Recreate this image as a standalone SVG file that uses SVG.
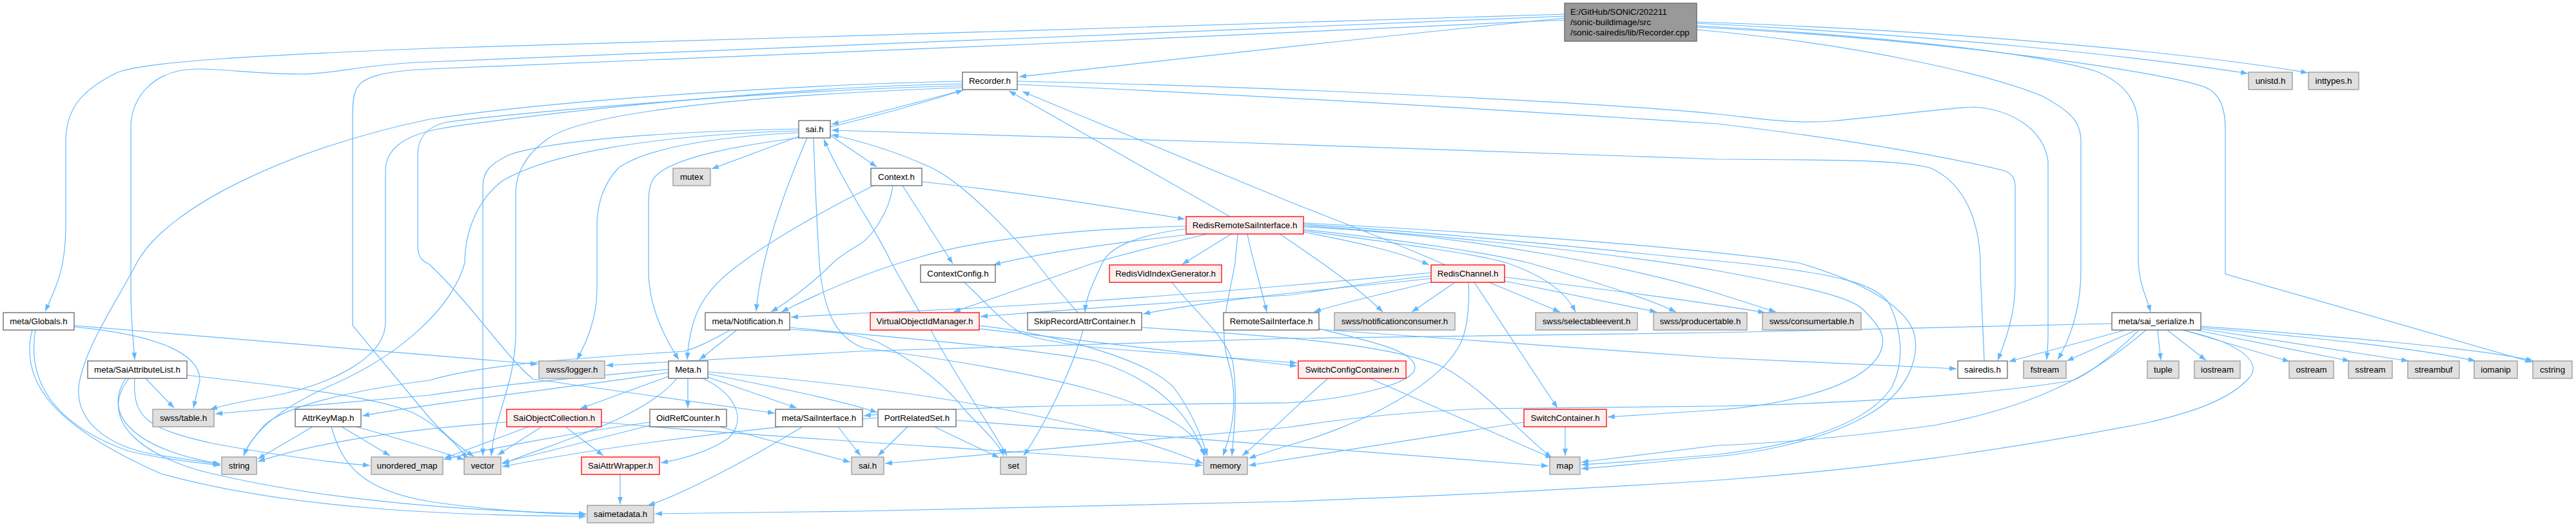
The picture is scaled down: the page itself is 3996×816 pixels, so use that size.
<svg xmlns="http://www.w3.org/2000/svg" width="3996" height="816" viewBox="0 0 3996 816">
<style>
.e{fill:none;stroke:#63b8ff;stroke-width:1.2;marker-end:url(#ah)}
rect{stroke-width:1.3}
.w rect{fill:#ffffff;stroke:#666666}
.g rect{fill:#e0e0e0;stroke:#999999}
.r rect{fill:#fff0f0;stroke:#ff0000}
.rt rect{fill:#999999;stroke:#666666}
text{font-family:"Liberation Sans",Arial,sans-serif;font-size:13.3px;fill:#000000;text-anchor:middle}
.rt text{text-anchor:start}
</style>
<defs>
<marker id="ah" markerWidth="11" markerHeight="8" refX="11" refY="4" orient="auto" markerUnits="userSpaceOnUse"><path d="M0,0L11,4L0,8z" fill="#63b8ff"/></marker>
</defs>
<rect x="0" y="0" width="3996" height="816" fill="#ffffff" stroke="none"/>
<g id="edges">
<path class="e" d="M2427,28 C2100,60 1800,95 1581,119"/>
<path class="e" d="M2427,22 C2000,40 1000,60 666,75 C400,86 230,95 183,112 C125,140 102,170 102,220 L102,350 C102,420 85,450 70,483"/>
<path class="e" d="M2427,25 C1800,50 900,90 666,96 C560,100 520,115 467,115 C400,115 350,107 306,107 C240,107 203,150 203,197 L203,450 C203,500 207,530 209,558"/>
<path class="e" d="M2632,40 C2900,55 3150,80 3250,110 C3300,130 3317,160 3317,200 L3317,400 C3317,440 3330,460 3336,484"/>
<path class="e" d="M2632,36 C3000,55 3300,85 3487,114"/>
<path class="e" d="M2632,34 C3100,50 3450,90 3580,113"/>
<path class="e" d="M2632,42 C3000,60 3350,110 3420,135 C3445,145 3452,170 3452,200 L3452,425 L3928,562"/>
<path class="e" d="M2632,46 C2900,70 3100,120 3170,150 C3215,175 3228,190 3228,220 L3228,420 C3228,470 3215,520 3192,558"/>
<path class="e" d="M2427,31 C2000,52 1000,95 666,107 C600,110 560,118 552,140 C548,150 547,160 547,180 L547,505 L666,648 C690,675 715,695 735,708"/>
<path class="e" d="M1496,139 C1420,160 1340,180 1290,193"/>
<path class="e" d="M1288,197 C1350,182 1430,160 1494,140"/>
<path class="e" d="M1493,126 C1300,130 900,150 666,185 C450,230 260,320 212,408 C180,470 130,540 122,600 C118,650 160,690 238,705 L341,720"/>
<path class="e" d="M1493,130 C1200,135 800,180 680,200 C620,212 598,235 598,265 L598,500 C598,560 500,600 420,615 C380,622 350,628 326,635"/>
<path class="e" d="M1493,133 C1200,140 800,175 690,190 C660,198 648,215 648,240 L648,380 C648,400 655,405 666,410 C730,470 790,560 827,588 L1202,641"/>
<path class="e" d="M1578,126 C2000,135 2500,160 2664,177 C2740,185 2780,192 2840,188 C2950,178 3030,166 3063,166 C3120,170 3170,200 3177,250 L3177,520 C3177,535 3176,545 3175,558"/>
<path class="e" d="M1578,131 C2000,150 2400,175 2664,192 C2900,220 3050,250 3110,265 C3122,270 3126,278 3126,290 L3126,440 C3126,490 3110,530 3099,559"/>
<path class="e" d="M1493,136 C1100,150 900,180 850,215 C815,240 800,270 800,300 L800,520 C798,600 768,640 762,707"/>
<path class="e" d="M1288,210 C1310,225 1340,245 1360,259"/>
<path class="e" d="M1241,211 L1104,262"/>
<path class="e" d="M1239,200 C1000,205 850,220 790,240 C760,255 749,265 749,290 L749,707"/>
<path class="e" d="M1239,206 C1100,212 1000,232 960,260 C935,285 926,320 926,350 L926,450 C926,500 905,540 895,558"/>
<path class="e" d="M1244,213 C1150,225 1030,245 1012,280 C1007,290 1006,300 1006,320 L1006,420 C1006,480 1035,530 1053,558"/>
<path class="e" d="M1252,214 C1215,300 1180,400 1173,483"/>
<path class="e" d="M1262,214 C1265,300 1269,380 1272,420 C1280,490 1300,525 1340,540 C1600,575 1840,620 1870,707"/>
<path class="e" d="M1239,203 C1000,210 850,240 780,280 C740,310 721,360 721,408 C700,480 620,550 520,595 C440,630 395,665 378,707"/>
<path class="e" d="M3078,560 C3075,480 3072,440 3072,408 C3070,330 3040,280 2993,260 C2950,250 2900,248 2664,247 C2300,235 1700,212 1290,202"/>
<path class="e" d="M1672,485 C1650,460 1625,430 1608,408 C1540,330 1480,275 1440,258 C1400,240 1350,222 1290,209"/>
<path class="e" d="M1427,485 C1410,455 1395,430 1383,408 C1365,370 1345,340 1332,318 C1310,280 1290,245 1278,216"/>
<path class="e" d="M1430,282 C1600,300 1750,325 1838,340"/>
<path class="e" d="M1400,288 L1478,409"/>
<path class="e" d="M1355,288 C1290,320 1200,370 1150,408 C1090,450 1070,490 1066,558"/>
<path class="e" d="M1385,288 C1380,330 1350,370 1332,380 C1310,393 1300,400 1292,408 C1260,440 1220,470 1196,484"/>
<path class="e" d="M1908,336 L1565,141"/>
<path class="e" d="M1852,363 C1700,380 1600,395 1541,411"/>
<path class="e" d="M1910,363 L1834,410"/>
<path class="e" d="M1873,363 C1800,380 1740,395 1697,408 L1479,484"/>
<path class="e" d="M1840,355 C1760,365 1720,385 1710,408 C1695,440 1685,460 1683,484"/>
<path class="e" d="M1935,363 C1942,400 1955,440 1965,484"/>
<path class="e" d="M2022,360 C2100,375 2170,390 2217,411"/>
<path class="e" d="M1840,351 C1650,355 1500,375 1423,400 C1350,420 1280,450 1212,484"/>
<path class="e" d="M1985,363 C2040,400 2100,440 2145,484"/>
<path class="e" d="M2022,358 C2150,375 2300,395 2338,408 C2400,430 2430,455 2444,484"/>
<path class="e" d="M2022,356 C2200,375 2320,395 2372,408 C2450,430 2550,460 2600,484"/>
<path class="e" d="M2022,352 C2300,365 2550,420 2664,455 L2755,484"/>
<path class="e" d="M2022,350 C2300,370 2550,400 2664,420 C2800,445 2870,460 2890,480 C2915,505 2925,520 2919,540 C2905,590 2800,625 2664,636 L2494,647"/>
<path class="e" d="M2022,348 C2300,365 2550,395 2698,408 C2850,425 2910,440 2930,470 C2950,510 2955,560 2935,600 C2890,670 2750,695 2664,705 C2550,715 2500,718 2453,721"/>
<path class="e" d="M2022,346 C2300,360 2650,385 2791,408 C2900,440 2960,480 2970,520 C2978,560 2955,610 2902,641 C2820,690 2700,705 2664,708 C2550,718 2500,724 2453,727"/>
<path class="e" d="M1920,363 C1918,390 1916,400 1916,408 C1905,470 1890,510 1905,560 C1920,610 1915,660 1897,707"/>
<path class="e" d="M2242,411 C2150,370 2050,333 1998,312 L1586,142"/>
<path class="e" d="M2257,438 L2190,484"/>
<path class="e" d="M2310,438 L2420,484"/>
<path class="e" d="M2334,436 L2570,484"/>
<path class="e" d="M2334,430 C2500,450 2650,470 2738,485"/>
<path class="e" d="M2287,438 L2416,633"/>
<path class="e" d="M2278,438 C2280,480 2275,520 2261,541 C2220,610 2080,670 1998,691 L1937,711"/>
<path class="e" d="M2220,423 C2150,430 2050,438 1998,443 C1750,465 1500,480 1332,486 L1227,492"/>
<path class="e" d="M2220,428 C2100,440 2050,452 1998,458 C1800,470 1600,485 1521,491"/>
<path class="e" d="M2220,432 C2100,445 1900,462 1773,487"/>
<path class="e" d="M2222,437 C2150,455 2080,470 2038,484"/>
<path class="e" d="M1496,438 C1530,470 1560,505 1587,518 C1650,540 1780,545 1842,550 L2012,563"/>
<path class="e" d="M1818,438 C1850,480 1900,520 1912,560 C1920,610 1915,660 1911,707"/>
<path class="e" d="M1444,512 C1480,580 1530,650 1562,707"/>
<path class="e" d="M1519,505 C1650,520 1780,560 1820,600 C1850,640 1865,680 1873,707"/>
<path class="e" d="M1519,510 C1700,530 1900,555 2012,568"/>
<path class="e" d="M1680,512 C1663,575 1620,660 1588,707"/>
<path class="e" d="M1771,508 C1950,520 2150,530 2240,570 C2310,610 2345,660 2407,710"/>
<path class="e" d="M2046,510 C2130,530 2195,545 2195,570 C2195,595 2100,618 1998,625 C1700,628 1480,630 1340,645"/>
<path class="e" d="M2046,511 C2300,530 2500,545 2664,555 L3035,572"/>
<path class="e" d="M1143,512 L1085,558"/>
<path class="e" d="M1133,512 C1100,530 1080,540 1061,545 C900,555 750,565 666,590 C550,605 440,630 410,660 C392,680 382,695 378,707"/>
<path class="e" d="M1225,508 C1400,525 1600,540 1700,560 C1800,590 1850,650 1868,707"/>
<path class="e" d="M1225,511 C1300,515 1330,518 1360,530 C1420,560 1470,600 1500,640 C1530,670 1550,690 1557,707"/>
<path class="e" d="M1037,578 C900,600 700,620 562,645"/>
<path class="e" d="M1037,573 C900,585 750,600 666,613 L334,642"/>
<path class="e" d="M1050,587 C1000,650 850,690 779,720"/>
<path class="e" d="M1037,584 L900,634"/>
<path class="e" d="M1067,587 L1067,633"/>
<path class="e" d="M1090,587 C1140,610 1160,650 1130,680 C1100,700 1060,712 1025,718"/>
<path class="e" d="M1098,585 L1236,633"/>
<path class="e" d="M1098,580 C1200,600 1300,620 1361,640"/>
<path class="e" d="M1098,577 C1400,600 1700,650 1866,719"/>
<path class="e" d="M877,662 L936,707"/>
<path class="e" d="M840,662 L772,706"/>
<path class="e" d="M820,662 L689,711"/>
<path class="e" d="M786,655 C600,668 480,690 400,716"/>
<path class="e" d="M933,655 C1200,680 1600,700 1865,722"/>
<path class="e" d="M1008,660 L779,718"/>
<path class="e" d="M1008,655 C900,670 760,695 689,713"/>
<path class="e" d="M1116,662 L1319,717"/>
<path class="e" d="M1245,662 C1150,720 1050,770 1005,784"/>
<path class="e" d="M1300,662 L1335,707"/>
<path class="e" d="M1408,662 L1362,707"/>
<path class="e" d="M1449,662 L1550,710"/>
<path class="e" d="M1483,652 C1700,670 2000,690 2402,723"/>
<path class="e" d="M1362,648 C1100,670 900,700 779,724"/>
<path class="e" d="M2060,587 C2000,640 1960,680 1927,707"/>
<path class="e" d="M2125,587 L2408,711"/>
<path class="e" d="M2428,662 L2428,707"/>
<path class="e" d="M2364,655 C2200,680 2050,705 1937,722"/>
<path class="e" d="M962,736 L962,782"/>
<path class="e" d="M485,662 L400,712"/>
<path class="e" d="M530,662 L605,707"/>
<path class="e" d="M514,662 C530,720 560,760 666,778 C780,795 870,797 909,798"/>
<path class="e" d="M552,662 C620,680 680,700 720,713"/>
<path class="e" d="M226,587 L270,633"/>
<path class="e" d="M195,587 C160,640 200,695 342,720"/>
<path class="e" d="M200,587 C150,650 220,710 330,735 C500,775 700,792 909,797"/>
<path class="e" d="M209,587 C205,650 230,665 330,688 C450,710 520,718 574,722"/>
<path class="e" d="M290,582 C450,600 580,615 640,640 C680,660 710,690 725,712"/>
<path class="e" d="M115,505 C400,530 600,545 834,565"/>
<path class="e" d="M115,507 C250,520 310,550 310,590 L300,633"/>
<path class="e" d="M55,512 C45,570 60,650 200,700 C260,714 310,718 342,722"/>
<path class="e" d="M50,512 C30,590 80,660 250,735 C450,790 700,800 909,801"/>
<path class="e" d="M3297,512 L3116,561"/>
<path class="e" d="M3314,512 L3206,560"/>
<path class="e" d="M3347,512 L3352,559"/>
<path class="e" d="M3362,512 L3422,559"/>
<path class="e" d="M3387,512 L3552,561"/>
<path class="e" d="M3406,512 L3645,560"/>
<path class="e" d="M3414,510 L3736,560"/>
<path class="e" d="M3414,508 C3600,525 3750,540 3840,560"/>
<path class="e" d="M3414,506 C3600,520 3850,540 3930,560"/>
<path class="e" d="M3276,502 L2664,516 C2300,520 2100,522 1998,525 C1700,532 1500,540 1332,545 L940,567"/>
<path class="e" d="M3318,512 C3280,550 3240,580 3216,590 C3100,610 2900,625 2664,630 L2300,634 C2150,640 2050,655 1998,663 L1373,719"/>
<path class="e" d="M3329,512 C3250,580 3161,630 3000,660 C2850,680 2750,688 2664,691 L2453,717"/>
<path class="e" d="M3385,512 C3470,530 3510,560 3490,585 C3460,620 3400,640 3330,656 C3100,700 2900,728 2664,745 C2350,765 2150,772 1998,778 C1700,785 1500,790 1332,793 L1016,797"/>
</g>
<g id="node-root" class="rt"><rect x="2427" y="5" width="205" height="59"/><text x="2436" y="23">E:/GitHub/SONiC/202211</text><text x="2436" y="39">/sonic-buildimage/src</text><text x="2436" y="55">/sonic-sairedis/lib/Recorder.cpp</text></g>
<g id="node-recorder_h" class="w"><rect x="1493" y="112" width="85" height="27"/><text x="1535.5" y="130">Recorder.h</text></g>
<g id="node-unistd_h" class="g"><rect x="3488" y="112" width="68" height="27"/><text x="3522" y="130">unistd.h</text></g>
<g id="node-inttypes_h" class="g"><rect x="3581" y="112" width="78" height="27"/><text x="3620" y="130">inttypes.h</text></g>
<g id="node-sai_h" class="w"><rect x="1239" y="187" width="49" height="27"/><text x="1263.5" y="205">sai.h</text></g>
<g id="node-context_h" class="w"><rect x="1351" y="261" width="79" height="27"/><text x="1390.5" y="279">Context.h</text></g>
<g id="node-mutex" class="g"><rect x="1044" y="261" width="58" height="27"/><text x="1073" y="279">mutex</text></g>
<g id="node-redisremotesaiinterface_h" class="r"><rect x="1840" y="336" width="182" height="27"/><text x="1931" y="354">RedisRemoteSaiInterface.h</text></g>
<g id="node-contextconfig_h" class="w"><rect x="1428" y="411" width="116" height="27"/><text x="1486" y="429">ContextConfig.h</text></g>
<g id="node-redisvidindexgenerator_h" class="r"><rect x="1721" y="411" width="174" height="27"/><text x="1808" y="429">RedisVidIndexGenerator.h</text></g>
<g id="node-redischannel_h" class="r"><rect x="2220" y="411" width="114" height="27"/><text x="2277" y="429">RedisChannel.h</text></g>
<g id="node-meta_globals_h" class="w"><rect x="5" y="485" width="110" height="27"/><text x="60" y="503">meta/Globals.h</text></g>
<g id="node-meta_notification_h" class="w"><rect x="1094" y="485" width="131" height="27"/><text x="1159.5" y="503">meta/Notification.h</text></g>
<g id="node-virtualobjectidmanager_h" class="r"><rect x="1350" y="485" width="169" height="27"/><text x="1434.5" y="503">VirtualObjectIdManager.h</text></g>
<g id="node-skiprecordattrcontainer_h" class="w"><rect x="1594" y="485" width="177" height="27"/><text x="1682.5" y="503">SkipRecordAttrContainer.h</text></g>
<g id="node-remotesaiinterface_h" class="w"><rect x="1898" y="485" width="148" height="27"/><text x="1972" y="503">RemoteSaiInterface.h</text></g>
<g id="node-swss_notificationconsumer_h" class="g"><rect x="2070" y="485" width="187" height="27"/><text x="2163.5" y="503">swss/notificationconsumer.h</text></g>
<g id="node-swss_selectableevent_h" class="g"><rect x="2382" y="485" width="158" height="27"/><text x="2461" y="503">swss/selectableevent.h</text></g>
<g id="node-swss_producertable_h" class="g"><rect x="2565" y="485" width="145" height="27"/><text x="2637.5" y="503">swss/producertable.h</text></g>
<g id="node-swss_consumertable_h" class="g"><rect x="2734" y="485" width="153" height="27"/><text x="2810.5" y="503">swss/consumertable.h</text></g>
<g id="node-meta_sai_serialize_h" class="w"><rect x="3276" y="485" width="138" height="27"/><text x="3345" y="503">meta/sai_serialize.h</text></g>
<g id="node-meta_saiattributelist_h" class="w"><rect x="136" y="560" width="154" height="27"/><text x="213" y="578">meta/SaiAttributeList.h</text></g>
<g id="node-swss_logger_h" class="g"><rect x="836" y="560" width="102" height="27"/><text x="887" y="578">swss/logger.h</text></g>
<g id="node-meta_h" class="w"><rect x="1037" y="560" width="61" height="27"/><text x="1067.5" y="578">Meta.h</text></g>
<g id="node-switchconfigcontainer_h" class="r"><rect x="2014" y="560" width="167" height="27"/><text x="2097.5" y="578">SwitchConfigContainer.h</text></g>
<g id="node-sairedis_h" class="w"><rect x="3037" y="560" width="77" height="27"/><text x="3075.5" y="578">sairedis.h</text></g>
<g id="node-fstream" class="g"><rect x="3139" y="560" width="66" height="27"/><text x="3172" y="578">fstream</text></g>
<g id="node-tuple" class="g"><rect x="3331" y="560" width="49" height="27"/><text x="3355.5" y="578">tuple</text></g>
<g id="node-iostream" class="g"><rect x="3404" y="560" width="71" height="27"/><text x="3439.5" y="578">iostream</text></g>
<g id="node-ostream" class="g"><rect x="3551" y="560" width="69" height="27"/><text x="3585.5" y="578">ostream</text></g>
<g id="node-sstream" class="g"><rect x="3643" y="560" width="68" height="27"/><text x="3677" y="578">sstream</text></g>
<g id="node-streambuf" class="g"><rect x="3735" y="560" width="80" height="27"/><text x="3775" y="578">streambuf</text></g>
<g id="node-iomanip" class="g"><rect x="3838" y="560" width="67" height="27"/><text x="3871.5" y="578">iomanip</text></g>
<g id="node-cstring" class="g"><rect x="3929" y="560" width="61" height="27"/><text x="3959.5" y="578">cstring</text></g>
<g id="node-swss_table_h" class="g"><rect x="237" y="635" width="95" height="27"/><text x="284.5" y="653">swss/table.h</text></g>
<g id="node-attrkeymap_h" class="w"><rect x="458" y="635" width="102" height="27"/><text x="509" y="653">AttrKeyMap.h</text></g>
<g id="node-saiobjectcollection_h" class="r"><rect x="786" y="635" width="147" height="27"/><text x="859.5" y="653">SaiObjectCollection.h</text></g>
<g id="node-oidrefcounter_h" class="w"><rect x="1008" y="635" width="119" height="27"/><text x="1067.5" y="653">OidRefCounter.h</text></g>
<g id="node-meta_saiinterface_h" class="w"><rect x="1203" y="635" width="135" height="27"/><text x="1270.5" y="653">meta/SaiInterface.h</text></g>
<g id="node-portrelatedset_h" class="w"><rect x="1362" y="635" width="121" height="27"/><text x="1422.5" y="653">PortRelatedSet.h</text></g>
<g id="node-switchcontainer_h" class="r"><rect x="2364" y="635" width="128" height="27"/><text x="2428" y="653">SwitchContainer.h</text></g>
<g id="node-string" class="g"><rect x="344" y="709" width="54" height="27"/><text x="371" y="727">string</text></g>
<g id="node-unordered_map" class="g"><rect x="576" y="709" width="111" height="27"/><text x="631.5" y="727">unordered_map</text></g>
<g id="node-vector" class="g"><rect x="720" y="709" width="57" height="27"/><text x="748.5" y="727">vector</text></g>
<g id="node-saiattrwrapper_h" class="r"><rect x="902" y="709" width="121" height="27"/><text x="962.5" y="727">SaiAttrWrapper.h</text></g>
<g id="node-sai_h_ext" class="g"><rect x="1321" y="709" width="50" height="27"/><text x="1346" y="727">sai.h</text></g>
<g id="node-set" class="g"><rect x="1552" y="709" width="40" height="27"/><text x="1572" y="727">set</text></g>
<g id="node-memory" class="g"><rect x="1867" y="709" width="68" height="27"/><text x="1901" y="727">memory</text></g>
<g id="node-map" class="g"><rect x="2404" y="709" width="47" height="27"/><text x="2427.5" y="727">map</text></g>
<g id="node-saimetadata_h" class="g"><rect x="911" y="784" width="103" height="27"/><text x="962.5" y="802">saimetadata.h</text></g>
</svg>
